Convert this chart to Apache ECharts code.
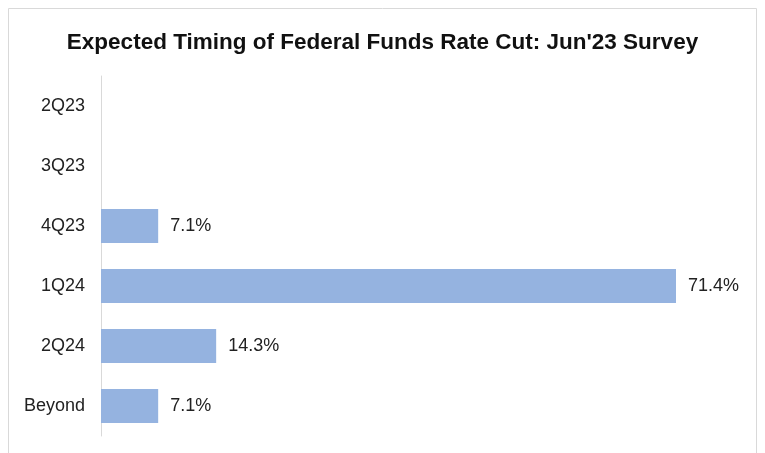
<!DOCTYPE html>
<html>
<head>
<meta charset="utf-8">
<script src="https://cdn.jsdelivr.net/npm/echarts@6/dist/echarts.min.js"></script>
<style>
  html, body { margin: 0; padding: 0; background: #fff; }
  #chart { width: 765px; height: 453px; }
</style>
</head>
<body>
<div id="chart"></div>
<script>
const categories = ['2Q23', '3Q23', '4Q23', '1Q24', '2Q24', 'Beyond']
const shares = [0, 0, 7.1, 71.4, 14.3, 7.1]

const chart = echarts.init(document.getElementById('chart'))
const option = {
  animation: false,
  title: {
    text: "Expected Timing of Federal Funds Rate Cut: Jun'23 Survey",
    left: 'center',
    top: 26,
    textStyle: {
      fontFamily: 'Liberation Sans',
      fontWeight: 'bold',
      fontSize: 22.5,
      color: '#111'
    }
  },
  graphic: [
    {
      type: 'rect',
      shape: { x: 8.5, y: 8.5, width: 748, height: 470 },
      style: { fill: 'none', stroke: '#d9d9d9', lineWidth: 1 },
      silent: true
    }
  ],
  grid: { left: 101, right: 89, top: 76, bottom: 17 },
  xAxis: {
    type: 'value',
    min: 0,
    max: 71.4,
    show: false
  },
  yAxis: {
    type: 'category',
    inverse: true,
    data: categories,
    axisLine: { lineStyle: { color: '#d9d9d9' } },
    axisTick: { show: false },
    axisLabel: {
      margin: 16,
      fontFamily: 'Liberation Sans',
      fontSize: 18,
      color: '#222'
    }
  },
  series: [
    {
      type: 'bar',
      data: shares,
      barWidth: '57%',
      itemStyle: { color: '#95b3e0' },
      label: {
        show: true,
        position: 'right',
        distance: 12,
        fontFamily: 'Liberation Sans',
        fontSize: 18,
        color: '#222',
        formatter: p => (p.value > 0 ? p.value.toFixed(1) + '%' : '')
      }
    }
  ]
}
chart.setOption(option)
</script>
</body>
</html>
